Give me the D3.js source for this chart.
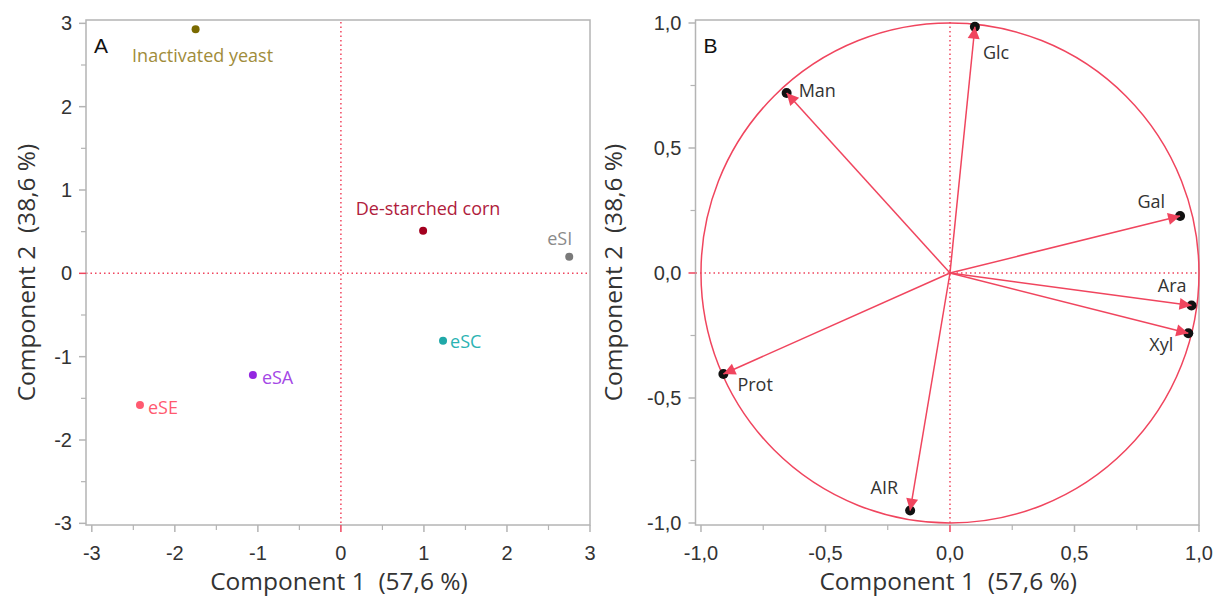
<!DOCTYPE html>
<html>
<head>
<meta charset="utf-8">
<script src="https://cdn.jsdelivr.net/npm/d3@7"></script>
<style>
  body { margin: 0; background: #fff; }
  svg { display: block; }
  .tick-label { font-family: "Liberation Sans", Arial, sans-serif; font-size: 20px; fill: #333; }
  .axis-title { font-family: "Open Sans", "Noto Sans", sans-serif; font-size: 24.5px; fill: #333; white-space: pre; }
  .pt-label { font-family: "Open Sans", "Noto Sans", sans-serif; font-size: 18px; }
</style>
</head>
<body>
<svg id="chart" width="1217" height="598"></svg>
<script>
// ---- data: panel A (scores)
const scoreNames  = ["Inactivated yeast", "De-starched corn", "eSI", "eSC", "eSA", "eSE"];
const scoreX      = [-1.75, 0.99, 2.75, 1.23, -1.06, -2.42];
const scoreY      = [2.93, 0.51, 0.20, -0.81, -1.22, -1.58];

// ---- data: panel B (loadings)
const loadingNames = ["Glc", "Man", "Gal", "Ara", "Xyl", "Prot", "AIR"];
const loadingX     = [0.10, -0.656, 0.924, 0.97, 0.957, -0.91, -0.16];
const loadingY     = [0.985, 0.72, 0.228, -0.13, -0.241, -0.404, -0.95];

const ticksA = [-3, -2, -1, 0, 1, 2, 3];
const ticksB = [-1.0, -0.5, 0.0, 0.5, 1.0];
const xTitle = "Component 1  (57,6 %)";
const yTitle = "Component 2  (38,6 %)";

// styles kept apart from the values
const scoreDot   = ["#7a6a00", "#a3001f", "#7a7a7a", "#1fa8a8", "#9426e0", "#ff5a70"];
const scoreText  = ["#a08c3a", "#b0203c", "#8a8a8a", "#2ab3b3", "#a447e6", "#ff5a70"];
// label offsets [dx, dy, anchor]
const scorePlace = [[7, 33, "middle"], [5, -16, "middle"], [3, -12, "end"], [7, 7, "start"], [9, 9, "start"], [8, 9, "start"]];
const loadPlace  = [[8, 32, "start"], [12, 4, "start"], [-15, -8, "end"], [-5, -14, "end"], [-15, 18, "end"], [14, 17, "start"], [-12, -17, "end"]];

const RED = "#f0455e";
const FRAME = "#b4b4b4";

const svg = d3.select("#chart");
const loc = d3.formatLocale({decimal: ",", thousands: ".", grouping: [3], currency: ["", ""], minus: "-"});
const fmtA = loc.format("d");
const fmtB = loc.format(".1f");

function drawFrame(x, y, ticks, minors, fmt, letter, titleX) {
  const [x0, x1] = x.range();
  const [y0, y1] = y.range(); // y0 bottom, y1 top
  const g = svg.append("g");

  // dotted zero lines
  g.append("line").attr("x1", x(0)).attr("x2", x(0)).attr("y1", y1 + 2).attr("y2", y0)
    .attr("stroke", RED).attr("stroke-width", 1.5).attr("stroke-dasharray", "1.5,3");
  g.append("line").attr("x1", x0).attr("x2", x1 - 2).attr("y1", y(0)).attr("y2", y(0))
    .attr("stroke", RED).attr("stroke-width", 1.5).attr("stroke-dasharray", "1.5,3");

  // frame
  g.append("rect").attr("x", x0).attr("y", y1).attr("width", x1 - x0).attr("height", y0 - y1)
    .attr("fill", "none").attr("stroke", FRAME).attr("stroke-width", 1.5);

  // x ticks
  g.selectAll("line.xmaj").data(ticks).join("line")
    .attr("x1", d => x(d)).attr("x2", d => x(d)).attr("y1", y0).attr("y2", y0 + 7)
    .attr("stroke", d => d === 0 ? RED : FRAME).attr("stroke-width", 1.5);
  g.selectAll("line.xmin").data(minors).join("line")
    .attr("x1", d => x(d)).attr("x2", d => x(d)).attr("y1", y0).attr("y2", y0 + 5)
    .attr("stroke", FRAME).attr("stroke-width", 1.2);
  g.selectAll("text.xl").data(ticks).join("text").attr("class", "tick-label")
    .attr("x", d => x(d)).attr("y", y0 + 35).attr("text-anchor", "middle").text(fmt);

  // y ticks
  g.selectAll("line.ymaj").data(ticks).join("line")
    .attr("x1", x0 - 7).attr("x2", x0).attr("y1", d => y(d)).attr("y2", d => y(d))
    .attr("stroke", d => d === 0 ? RED : FRAME).attr("stroke-width", 1.5);
  g.selectAll("line.ymin").data(minors).join("line")
    .attr("x1", x0 - 5).attr("x2", x0).attr("y1", d => y(d)).attr("y2", d => y(d))
    .attr("stroke", FRAME).attr("stroke-width", 1.2);
  g.selectAll("text.yl").data(ticks).join("text").attr("class", "tick-label")
    .attr("x", x0 - 14).attr("y", d => y(d) + 7).attr("text-anchor", "end").text(fmt);

  // titles
  g.append("text").attr("class", "axis-title").attr("x", (x0 + x1) / 2 + 1).attr("y", 590)
    .attr("text-anchor", "middle").text(xTitle);
  g.append("text").attr("class", "axis-title")
    .attr("transform", `translate(${titleX},${(y0 + y1) / 2}) rotate(-90)`)
    .attr("text-anchor", "middle").text(yTitle);

  g.append("text").attr("x", x0 + 8).attr("y", y1 + 33)
    .style("font-family", "Liberation Sans, Arial, sans-serif").style("font-size", "21px")
    .attr("fill", "#111").text(letter);
  return g;
}

// ---------------- Panel A
const xA = d3.scaleLinear().domain([-3.07, 3]).range([86, 590]);
const yA = d3.scaleLinear().domain([-3.02, 3.04]).range([525, 20]);
const minorA = [-2.5, -1.5, -0.5, 0.5, 1.5, 2.5];
drawFrame(xA, yA, ticksA, minorA, fmtA, "A", 35);

const scores = scoreNames.map((n, i) => ({name: n, x: scoreX[i], y: scoreY[i], i}));
const gA = svg.append("g");
gA.selectAll("circle").data(scores).join("circle")
  .attr("cx", d => xA(d.x)).attr("cy", d => yA(d.y)).attr("r", 4)
  .attr("fill", d => scoreDot[d.i]);
gA.selectAll("text").data(scores).join("text").attr("class", "pt-label")
  .attr("x", d => xA(d.x) + scorePlace[d.i][0])
  .attr("y", d => yA(d.y) + scorePlace[d.i][1])
  .attr("text-anchor", d => scorePlace[d.i][2])
  .attr("fill", d => scoreText[d.i]).text(d => d.name);

// ---------------- Panel B
const xB = d3.scaleLinear().domain([-1.022, 1.0]).range([695.5, 1199]);
const yB = d3.scaleLinear().domain([-1.008, 1.012]).range([525, 20]);
const minorB = [-0.75, -0.25, 0.25, 0.75];
drawFrame(xB, yB, ticksB, minorB, fmtB, "B", 622);

const gB = svg.append("g");
gB.append("ellipse")
  .attr("cx", xB(0)).attr("cy", yB(0))
  .attr("rx", xB(1) - xB(0)).attr("ry", yB(0) - yB(1))
  .attr("fill", "none").attr("stroke", RED).attr("stroke-width", 1.5);

const loads = loadingNames.map((n, i) => ({name: n, x: loadingX[i], y: loadingY[i], i}));
gB.selectAll("circle.tip").data(loads).join("circle").attr("class", "tip")
  .attr("cx", d => xB(d.x)).attr("cy", d => yB(d.y)).attr("r", 5).attr("fill", "#111");

gB.selectAll("line.vec").data(loads).join("line").attr("class", "vec")
  .attr("x1", xB(0)).attr("y1", yB(0))
  .attr("x2", d => xB(d.x)).attr("y2", d => yB(d.y))
  .attr("stroke", RED).attr("stroke-width", 1.5);

// arrow heads
gB.selectAll("path.head").data(loads).join("path").attr("class", "head")
  .attr("d", "M0,0 L-12,-6 L-12,6 Z")
  .attr("fill", RED)
  .attr("transform", d => {
    const px = xB(d.x), py = yB(d.y);
    const ang = Math.atan2(py - yB(0), px - xB(0)) * 180 / Math.PI;
    return `translate(${px},${py}) rotate(${ang})`;
  });

gB.selectAll("text.lbl").data(loads).join("text").attr("class", "pt-label lbl")
  .attr("x", d => xB(d.x) + loadPlace[d.i][0])
  .attr("y", d => yB(d.y) + loadPlace[d.i][1])
  .attr("text-anchor", d => loadPlace[d.i][2])
  .attr("fill", "#333").text(d => d.name);
</script>
</body>
</html>
